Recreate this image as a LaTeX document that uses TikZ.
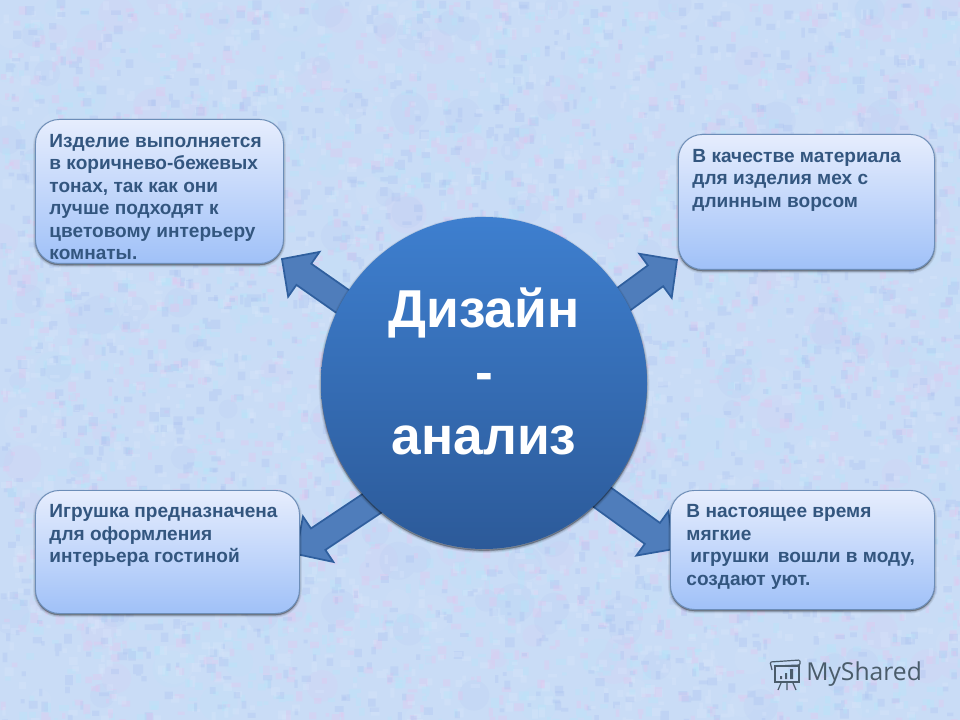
\documentclass[tikz,border=0pt]{standalone}
\usepackage{fontspec}
\setmainfont{Liberation Sans}
\newfontfamily\logofont{Open Sans}
\usetikzlibrary{calc,shapes.geometric,shadows}
\pgfdeclarelayer{tex}\pgfdeclarelayer{arr}
\pgfsetlayers{tex,arr,main}
\definecolor{bgbase}{HTML}{C9DCF6}
\definecolor{bgpink}{HTML}{E8C2EE}
\definecolor{bgcyan}{HTML}{B2E8FA}
\definecolor{bgblue}{HTML}{A9C0F0}
\definecolor{bglight}{HTML}{DCE8FC}
\definecolor{boxtop}{HTML}{E6EDFD}
\definecolor{boxbot}{HTML}{A0C1F8}
\definecolor{boxline}{HTML}{6C8DB8}
\definecolor{boxtext}{HTML}{33567F}
\definecolor{circtop}{HTML}{3E7FCF}
\definecolor{circbot}{HTML}{2C5A99}
\definecolor{arrfill}{HTML}{4F7DBB}
\definecolor{arrline}{HTML}{2F5F9E}
\definecolor{logoc}{HTML}{4A5C6A}
\tikzset{
  softshadow/.style={
    general shadow={shadow xshift=0pt,shadow yshift=-1.2pt,fill=black,draw=black,line width=3.5pt,opacity=.07},
    general shadow={shadow xshift=0pt,shadow yshift=-1.2pt,fill=black,draw=black,line width=2pt,opacity=.1},
    general shadow={shadow xshift=0pt,shadow yshift=-1.2pt,fill=black,draw=black,line width=.7pt,opacity=.15}},
  softbox/.style={rounded corners=18pt,draw=boxline,line width=.7pt,inner sep=0pt,anchor=north west,
    top color=boxtop,bottom color=boxbot,text=boxtext,softshadow},
  hub/.style={ellipse,minimum width=244.5pt,minimum height=249pt,inner sep=0pt,text=white,
    top color=circtop,bottom color=circbot,softshadow},
  blockarrow/.style={fill=arrfill,draw=arrline,line width=1.3pt,line join=miter},
  logoline/.style={draw=logoc,line width=.9pt}
}
\newcommand{\boxt}[5]{\parbox[c][#2pt][t]{#1pt}{\fontsize{14.3pt}{16.8pt}\bfseries\selectfont\raggedright\leftskip=#3pt\rule{0pt}{#4pt}#5\par}}
\newcommand{\blockarr}[3]{%
  \coordinate (#1n) at ($(#3)!20pt!(#2)$);
  \coordinate (#1s) at ($(#2)!-9pt!(#3)$);
  \coordinate (#1a) at ($(#1s)!9.7pt!90:(#3)$);
  \coordinate (#1b) at ($(#1s)!9.7pt!-90:(#3)$);
  \coordinate (#1c) at ($(#1n)!9.7pt!-90:(#3)$);
  \coordinate (#1d) at ($(#1n)!20.5pt!-90:(#3)$);
  \coordinate (#1e) at ($(#1n)!20.5pt!90:(#3)$);
  \coordinate (#1f) at ($(#1n)!9.7pt!90:(#3)$);
  \draw[blockarrow] (#1a) -- (#1f) -- (#1e) -- (#3) -- (#1d) -- (#1c) -- (#1b) -- cycle;
}
\begin{document}
\begin{tikzpicture}[x=.75pt,y=-.75pt]
\useasboundingbox (0,0) rectangle (960,720);
\begin{pgfonlayer}{tex}
  \fill[bgbase] (0,0) rectangle (960,720);
  \begin{scope}
    \clip (0,0) rectangle (960,720);
    \pgfmathsetseed{4242}
    \foreach \cc in {bgpink,bgcyan,bgblue,bglight}{
      \fill[\cc,opacity=.12] foreach \i in {1,...,100} {(rnd*960,rnd*720) circle[radius=8+rnd*12]};
    }
    \foreach \cc in {bgpink,bgcyan,bgblue,bglight,bgcyan,bgpink,bglight,bgblue}{
      \fill[\cc,opacity=.3] foreach \i in {1,...,700} {(rnd*960,rnd*720) rectangle ++(3+rnd*7,3+rnd*7)};
    }
  \end{scope}
\end{pgfonlayer}

\node[softbox] (boxa) at (35,119) {\boxt{186}{108}{10.5}{21}{Изделие выполняется\\в коричнево-бежевых\\тонах, так как они\\лучше подходят к\\цветовому интерьеру\\комнаты.}};
\node[softbox] (boxb) at (678,134) {\boxt{192}{101.25}{10.5}{21}{В качестве материала\\для изделия мех с\\длинным ворсом}};
\node[softbox] (boxc) at (35,490) {\boxt{198}{92.25}{10.5}{20.5}{Игрушка предназначена\\для оформления\\интерьера гостиной}};
\node[softbox] (boxd) at (670,490) {\boxt{198}{89.25}{12}{20.5}{В настоящее время\\мягкие\\\hspace*{3pt}игрушки\, вошли в моду,\\создают уют.}};

\node[hub] (hubc) at (484,383) {\raisebox{6.5pt}[0pt][0pt]{\makebox[0pt]{\parbox{200pt}{\centering\fontsize{40pt}{47.6pt}\bfseries\selectfont Дизайн\\-\\анализ}}}};

\begin{pgfonlayer}{arr}
  \coordinate (tipa) at (282,259);
  \coordinate (tipb) at (677,260);
  \coordinate (tipc) at (296,554);
  \coordinate (tipd) at (674,549);
  \blockarr{aa}{hubc.150}{tipa}
  \blockarr{ab}{hubc.31.5}{tipb}
  \blockarr{ac}{hubc.227}{tipc}
  \blockarr{ad}{hubc.-44}{tipd}
\end{pgfonlayer}

\node[text=logoc,anchor=west,inner sep=0pt,font=\logofont\fontsize{18.5pt}{18.5pt}\selectfont] (logo) at (806,674) {MyShared};
\draw[logoline,rounded corners=1pt] (772,670) -- (770,662) -- (800,660) -- (800,665) -- (775,666);
\draw[logoline] (775,666) rectangle (799,682);
\draw[logoline] (781,683) -- (778,690) (787,683) -- (787,690) (793,683) -- (796,690);
\fill[logoc] (780,676) rectangle (782,679) (785,673) rectangle (787,679) (790,669) rectangle (793,679);
\end{tikzpicture}
\end{document}
